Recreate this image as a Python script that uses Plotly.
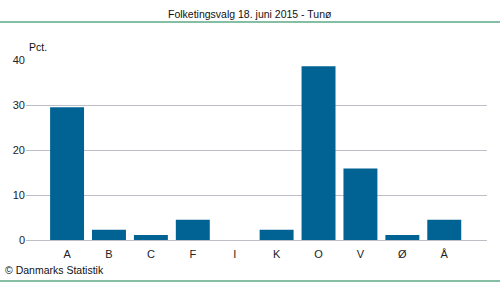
import plotly.graph_objects as go

categories = ["A", "B", "C", "F", "I", "K", "O", "V", "Ø", "Å"]
values = [29.5, 2.3, 1.1, 4.5, 0.0, 2.3, 38.6, 15.9, 1.1, 4.5]
y_ticks = [0, 10, 20, 30, 40]
title_text = "Folketingsvalg 18. juni 2015 - Tunø"
unit_text = "Pct."
source_text = "© Danmarks Statistik"

W, H = 500, 282
L, R, T, B = 26, 13, 60, 42
pw, ph = W - L - R, H - T - B

def px(x):
    return (x - L) / pw

def py(y):
    return (H - B - y) / ph

FONT = "Liberation Sans"
green = "#0F7F4A"
TXT = 10.5

fig = go.Figure(go.Bar(x=categories, y=values, marker_color="#006394",
                       marker_line_width=0))

fig.update_layout(
    width=W, height=H, margin=dict(l=L, r=R, t=T, b=B),
    paper_bgcolor="white", plot_bgcolor="white",
    bargap=0.19, showlegend=False,
    font=dict(family=FONT, size=TXT, color="#222222"),
    xaxis=dict(type="category", range=[-0.98, 10.02], showgrid=False,
               showline=False, ticks="", tickfont=dict(size=11),
               ticklabelstandoff=6),
    yaxis=dict(range=[0, 40], tickvals=y_ticks, showgrid=True,
               gridcolor="#BEBEC8", gridwidth=1, zeroline=True,
               zerolinecolor="#BEBEC8", zerolinewidth=1, showline=False,
               ticks="", tickfont=dict(size=11)),
    shapes=[
        dict(type="line", xref="paper", yref="paper", x0=px(0), x1=px(500),
             y0=py(22), y1=py(22), line=dict(color=green, width=1.2)),
        dict(type="line", xref="paper", yref="paper", x0=px(0), x1=px(500),
             y0=py(281), y1=py(281), line=dict(color=green, width=1.2)),
    ],
    annotations=[
        dict(text=title_text, xref="paper", yref="paper", x=px(250), y=py(14),
             xanchor="center", yanchor="middle", showarrow=False,
             font=dict(size=TXT, color="#111111")),
        dict(text=unit_text, xref="paper", yref="paper", x=px(27), y=py(47),
             xanchor="left", yanchor="middle", showarrow=False,
             font=dict(size=TXT, color="#111111")),
        dict(text=source_text, xref="paper", yref="paper", x=px(3), y=py(270),
             xanchor="left", yanchor="middle", showarrow=False,
             font=dict(size=TXT, color="#111111")),
    ],
)

fig.write_html("out.html")
